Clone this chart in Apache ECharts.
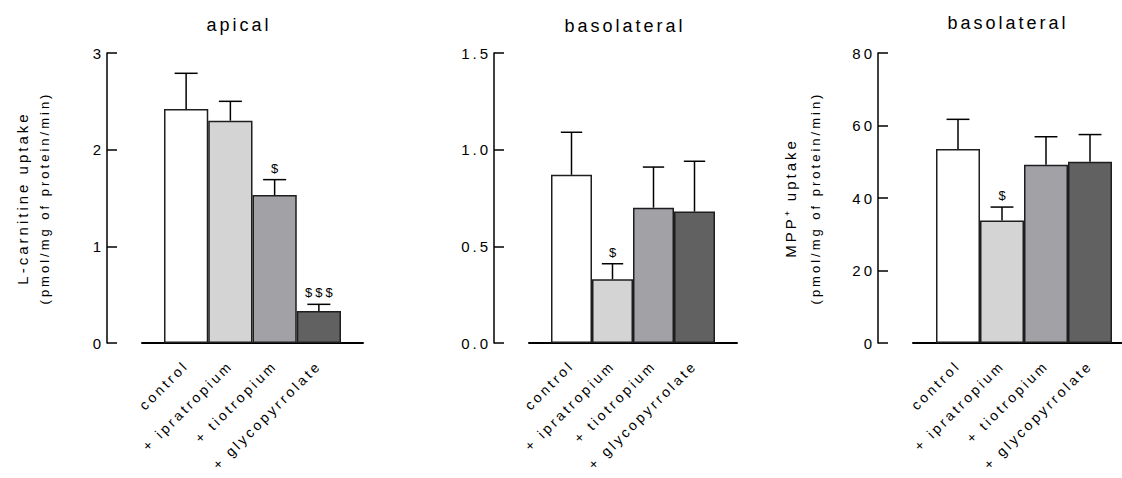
<!DOCTYPE html>
<html><head><meta charset="utf-8">
<script src="https://cdn.jsdelivr.net/npm/echarts@6/dist/echarts.min.js"></script>
<style>
html,body{margin:0;padding:0;background:#fff}
#main{width:1122px;height:478px}
#main text{letter-spacing:3px}
</style></head><body><div id="main"></div>
<script>
// ---- data ----
const categories = ['control', '+ ipratropium', '+ tiotropium', '+ glycopyrrolate'];
const panelTitles = ['apical', 'basolateral', 'basolateral'];

const apicalCarnitineMean = [2.42, 2.30, 1.53, 0.33];
const apicalCarnitineErr  = [0.37, 0.20, 0.16, 0.07];
const apicalCarnitineSig  = ['', '', '$', '$$$'];

const basoCarnitineMean = [0.87, 0.33, 0.70, 0.68];
const basoCarnitineErr  = [0.22, 0.08, 0.21, 0.26];
const basoCarnitineSig  = ['', '$', '', ''];

const basoMppMean = [53.5, 33.8, 49.2, 50.0];
const basoMppErr  = [8.2, 3.7, 7.7, 7.5];
const basoMppSig  = ['', '$', '', ''];

const yTicks1 = [0, 3, 1];
const yTicks2 = [0, 1.5, 0.5];
const yTicks3 = [0, 80, 20];

// ---- styling / layout ----
const barColors = ['#ffffff', '#d4d4d4', '#a2a1a6', '#616161'];
const FONT = 'Liberation Sans, Arial, sans-serif';
const TOP = 53, HEIGHT = 290;

const panels = [
  { mean: apicalCarnitineMean, err: apicalCarnitineErr, sig: apicalCarnitineSig, ticks: yTicks1,
    axisX: 107, lineLeft: 142, lineW: 221, barLeft: 164, barW: 177, titleX: 234, titleTop: 11,
    name: '{a|L-carnitine uptake}\n{b|(pmol/mg of protein/min)}', nameGap: 52, lh: 22, fmt: v => String(v) },
  { mean: basoCarnitineMean, err: basoCarnitineErr, sig: basoCarnitineSig, ticks: yTicks2,
    axisX: 494, lineLeft: 529, lineW: 208, barLeft: 551, barW: 164, titleX: 620, titleTop: 12,
    name: '', nameGap: 50, lh: 22, fmt: v => v.toFixed(1) },
  { mean: basoMppMean, err: basoMppErr, sig: basoMppSig, ticks: yTicks3,
    axisX: 878, lineLeft: 913, lineW: 221, barLeft: 936, barW: 176, titleX: 1003, titleTop: 9,
    name: '{a|MPP\u207A uptake}\n{b|(pmol/mg of protein/min)}', nameGap: 50, lh: 25, fmt: v => String(v) }
];

const grid = [], xAxis = [], yAxis = [], series = [], title = [];

panels.forEach((p, k) => {
  title.push({
    text: panelTitles[k], left: p.titleX, top: p.titleTop, textAlign: 'center',
    textStyle: { fontFamily: FONT, fontSize: 18, fontWeight: 'normal', color: '#000' }
  });
  grid.push({ left: p.barLeft, width: p.barW, top: TOP, height: HEIGHT, containLabel: false });
  grid.push({ left: p.lineLeft, width: p.lineW, top: TOP, height: HEIGHT, containLabel: false });
  const gb = 2 * k, gl = 2 * k + 1;

  xAxis.push({
    type: 'category', gridIndex: gb, data: categories, boundaryGap: true,
    axisLine: { show: false }, axisTick: { show: false }, splitLine: { show: false },
    axisLabel: { rotate: 45, margin: 20, interval: 0, fontFamily: FONT, fontSize: 14, color: '#000' }
  });
  xAxis.push({
    type: 'value', gridIndex: gl, min: 0, max: 1, position: 'bottom',
    axisLine: { show: true, onZero: false, lineStyle: { color: '#000', width: 2 } },
    axisTick: { show: false }, axisLabel: { show: false }, splitLine: { show: false }
  });
  yAxis.push({
    type: 'value', gridIndex: gb, position: 'left', offset: p.barLeft - p.axisX,
    min: p.ticks[0], max: p.ticks[1], interval: p.ticks[2],
    axisLine: { show: true, lineStyle: { color: '#000', width: 1.5 } },
    axisTick: { show: true, inside: true, length: 10, lineStyle: { color: '#000', width: 1.5 } },
    splitLine: { show: false },
    axisLabel: { margin: 3, fontFamily: FONT, fontSize: 15, color: '#000', formatter: p.fmt },
    name: p.name, nameLocation: 'middle', nameRotate: 90, nameGap: p.nameGap,
    nameTextStyle: {
      fontFamily: FONT, color: '#000',
      rich: {
        a: { fontFamily: FONT, fontSize: 15, color: '#000', lineHeight: p.lh },
        b: { fontFamily: FONT, fontSize: 13, color: '#000', lineHeight: p.lh }
      }
    }
  });
  yAxis.push({ type: 'value', gridIndex: gl, min: 0, max: 1, show: false });

  series.push({
    type: 'bar', xAxisIndex: gb, yAxisIndex: gb, barCategoryGap: '0%', barGap: '0%',
    data: p.mean.map((v, i) => ({ value: v, itemStyle: { color: barColors[i] } })),
    itemStyle: { borderColor: '#1e1e1e', borderWidth: 1.5 },
    emphasis: { disabled: true }, silent: true, z: 2
  });
  const sig = p.sig;
  series.push({
    type: 'custom', xAxisIndex: gb, yAxisIndex: gb, z: 5, silent: true,
    data: p.mean.map((v, i) => [i, v, p.err[i]]),
    renderItem: function (params, api) {
      const i = api.value(0), m = api.value(1), e = api.value(2);
      const base = api.coord([i, m]);
      const top = api.coord([i, m + e]);
      const half = api.size([1, 0])[0] * 0.26;
      const children = [
        { type: 'line', shape: { x1: base[0], y1: base[1], x2: top[0], y2: top[1] },
          style: { stroke: '#000', lineWidth: 1.5 } },
        { type: 'line', shape: { x1: top[0] - half, y1: top[1], x2: top[0] + half, y2: top[1] },
          style: { stroke: '#000', lineWidth: 1.5 } }
      ];
      const s = sig[params.dataIndex];
      if (s) {
        children.push({ type: 'text', x: top[0] + 1.5, y: top[1] - 5,
          style: { text: s, fill: '#000', font: '13px ' + FONT, textAlign: 'center', textVerticalAlign: 'bottom' } });
      }
      return { type: 'group', children };
    }
  });
});

const chart = echarts.init(document.getElementById('main'), null, { renderer: 'svg' });
chart.setOption({ animation: false, backgroundColor: '#fff', title, grid, xAxis, yAxis, series });
</script></body></html>
